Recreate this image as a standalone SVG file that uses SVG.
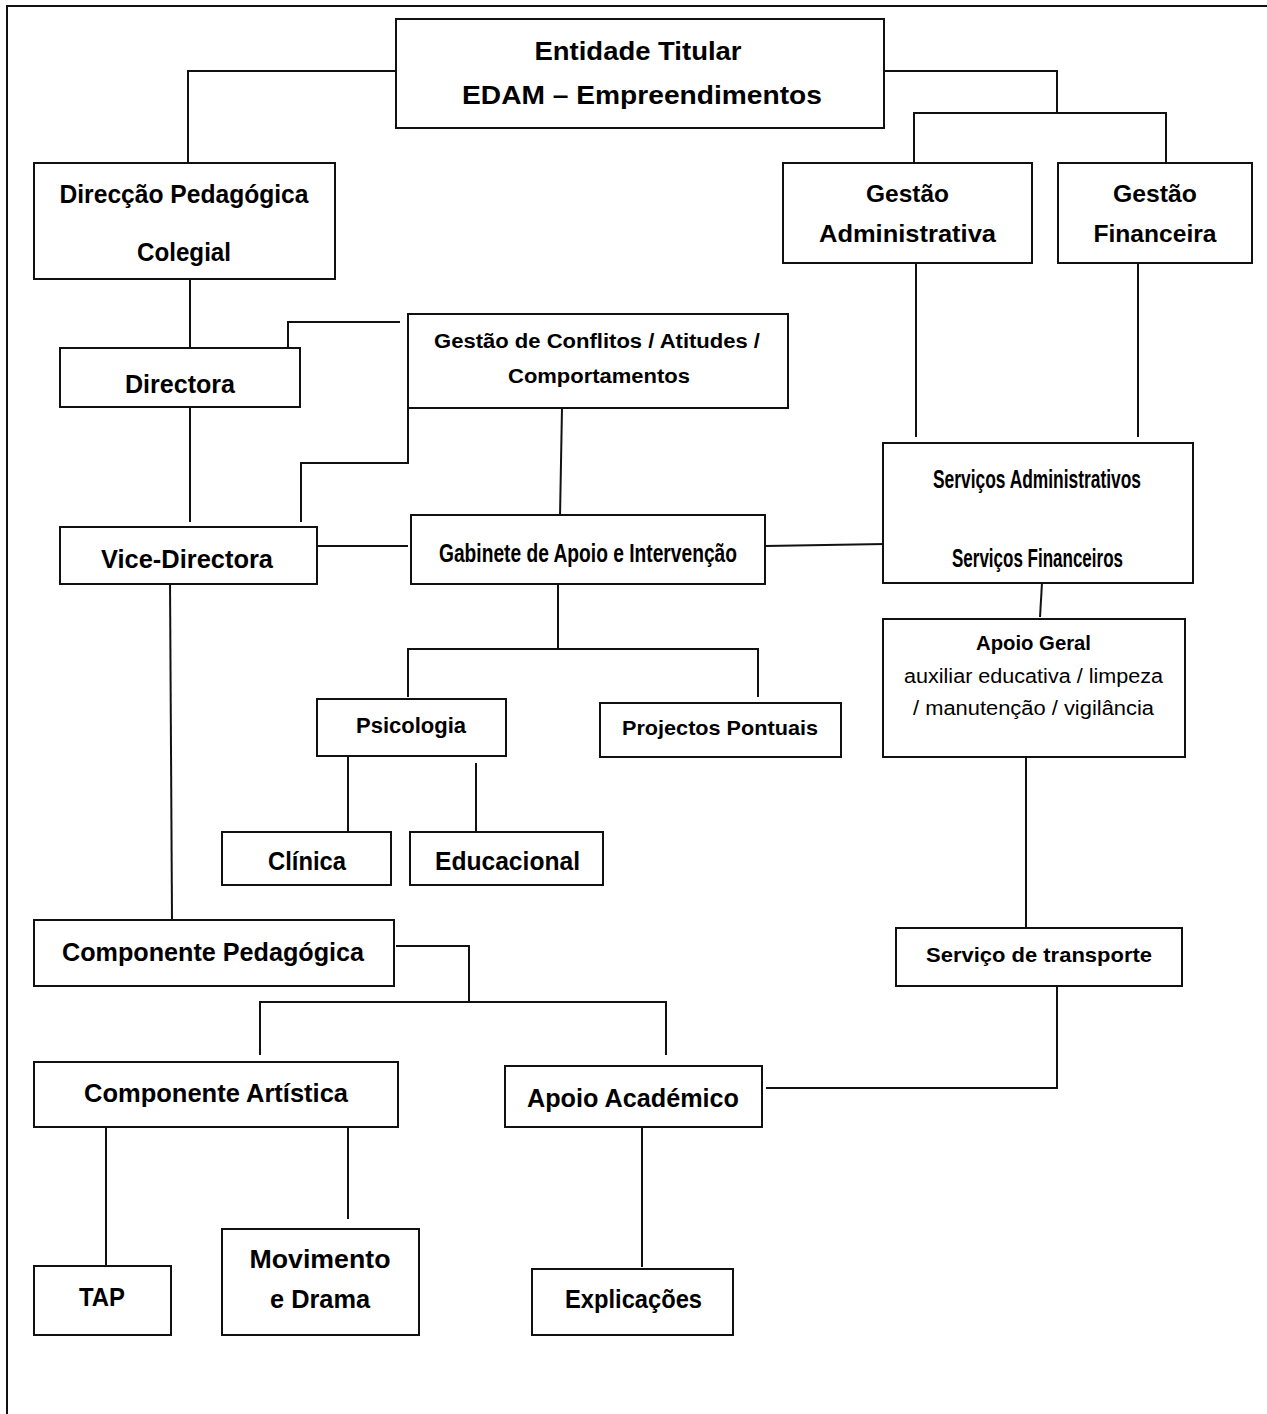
<svg xmlns="http://www.w3.org/2000/svg" width="1267" height="1414" viewBox="0 0 1267 1414">
<style>
.box{fill:#fff;stroke:#111;stroke-width:2}
.c path{fill:none;stroke:#111;stroke-width:2}
text{font-family:"Liberation Sans",Arial,sans-serif;font-weight:bold;fill:#000;text-anchor:middle}
.reg{font-weight:normal}
</style>
<rect width="1267" height="1414" fill="#fff"/>
<path d="M7,1414 V6 H1267" fill="none" stroke="#111" stroke-width="2"/>
<g class="c" id="connectors">
<path d="M396,71 H188 V163"/>
<path d="M884,71 H1057 V113"/>
<path d="M914,163 V113 H1166 V163"/>
<path d="M190,279 V348"/>
<path d="M288,348 V322 H400"/>
<path d="M190,407 V522"/>
<path d="M408,408 V463 H301 V522"/>
<path d="M562,408 L560,517"/>
<path d="M317,546 H408"/>
<path d="M765,546 L885,544"/>
<path d="M916,263 V437"/>
<path d="M1138,263 V437"/>
<path d="M1042,583 L1040,617"/>
<path d="M558,584 V649"/>
<path d="M408,697 V649 H758 V697"/>
<path d="M348,752 V835"/>
<path d="M476,763 V835"/>
<path d="M1026,752 V933"/>
<path d="M170,580 L172,919"/>
<path d="M396,946 H469 V1002"/>
<path d="M260,1055 V1002 H666 V1055"/>
<path d="M106,1120 V1267"/>
<path d="M348,1120 V1219"/>
<path d="M642,1120 V1267"/>
<path d="M1057,986 V1088 H766"/>
</g>
<g id="entidade"><rect class="box" x="396" y="19" width="488" height="109"/>
<text x="638" y="60" font-size="26" textLength="207" lengthAdjust="spacingAndGlyphs">Entidade Titular</text>
<text x="642" y="104" font-size="26" textLength="360" lengthAdjust="spacingAndGlyphs">EDAM – Empreendimentos</text></g>
<g id="direccao"><rect class="box" x="34" y="163" width="301" height="116"/>
<text x="184" y="203" font-size="25" textLength="249" lengthAdjust="spacingAndGlyphs">Direcção Pedagógica</text>
<text x="184" y="261" font-size="25" textLength="94" lengthAdjust="spacingAndGlyphs">Colegial</text></g>
<g id="directora"><rect class="box" x="60" y="348" width="240" height="59"/>
<text x="180" y="393" font-size="25" textLength="110" lengthAdjust="spacingAndGlyphs">Directora</text></g>
<g id="gestao-conflitos"><rect class="box" x="408" y="314" width="380" height="94"/>
<text x="597" y="348" font-size="20" textLength="326" lengthAdjust="spacingAndGlyphs">Gestão de Conflitos / Atitudes /</text>
<text x="599" y="383" font-size="20" textLength="182" lengthAdjust="spacingAndGlyphs">Comportamentos</text></g>
<g id="gestao-admin"><rect class="box" x="783" y="163" width="249" height="100"/>
<text x="907.5" y="202" font-size="24" textLength="83" lengthAdjust="spacingAndGlyphs">Gestão</text>
<text x="907.5" y="242" font-size="24" textLength="177" lengthAdjust="spacingAndGlyphs">Administrativa</text></g>
<g id="gestao-fin"><rect class="box" x="1058" y="163" width="194" height="100"/>
<text x="1155" y="202" font-size="24" textLength="84" lengthAdjust="spacingAndGlyphs">Gestão</text>
<text x="1155" y="242" font-size="24" textLength="123" lengthAdjust="spacingAndGlyphs">Financeira</text></g>
<g id="servicos"><rect class="box" x="883" y="443" width="310" height="140"/>
<text x="1037" y="488" font-size="26" textLength="208" lengthAdjust="spacingAndGlyphs">Serviços Administrativos</text>
<text x="1037.5" y="567" font-size="26" textLength="171" lengthAdjust="spacingAndGlyphs">Serviços Financeiros</text></g>
<g id="gabinete"><rect class="box" x="411" y="515" width="354" height="69"/>
<text x="588" y="562" font-size="26" textLength="298" lengthAdjust="spacingAndGlyphs">Gabinete de Apoio e Intervenção</text></g>
<g id="vice-directora"><rect class="box" x="60" y="527" width="257" height="57"/>
<text x="187" y="568" font-size="25" textLength="172" lengthAdjust="spacingAndGlyphs">Vice-Directora</text></g>
<g id="psicologia"><rect class="box" x="317" y="699" width="189" height="57"/>
<text x="411" y="733" font-size="22" textLength="110" lengthAdjust="spacingAndGlyphs">Psicologia</text></g>
<g id="projectos"><rect class="box" x="600" y="703" width="241" height="54"/>
<text x="720" y="735" font-size="21" textLength="196" lengthAdjust="spacingAndGlyphs">Projectos Pontuais</text></g>
<g id="apoio-geral"><rect class="box" x="883" y="619" width="302" height="138"/>
<text x="1033.5" y="650" font-size="20" textLength="115" lengthAdjust="spacingAndGlyphs">Apoio Geral</text>
<text class="reg" x="1033.5" y="683" font-size="20" textLength="259" lengthAdjust="spacingAndGlyphs">auxiliar educativa / limpeza</text>
<text class="reg" x="1033.5" y="715" font-size="20" textLength="241" lengthAdjust="spacingAndGlyphs">/ manutenção / vigilância</text></g>
<g id="clinica"><rect class="box" x="222" y="832" width="169" height="53"/>
<text x="307" y="870" font-size="25" textLength="78" lengthAdjust="spacingAndGlyphs">Clínica</text></g>
<g id="educacional"><rect class="box" x="410" y="832" width="193" height="53"/>
<text x="507.5" y="870" font-size="25" textLength="145" lengthAdjust="spacingAndGlyphs">Educacional</text></g>
<g id="componente-pedagogica"><rect class="box" x="34" y="920" width="360" height="66"/>
<text x="213" y="961" font-size="25" textLength="302" lengthAdjust="spacingAndGlyphs">Componente Pedagógica</text></g>
<g id="componente-artistica"><rect class="box" x="34" y="1062" width="364" height="65"/>
<text x="216" y="1102" font-size="25" textLength="264" lengthAdjust="spacingAndGlyphs">Componente Artística</text></g>
<g id="apoio-academico"><rect class="box" x="505" y="1066" width="257" height="61"/>
<text x="633" y="1107" font-size="25" textLength="212" lengthAdjust="spacingAndGlyphs">Apoio Académico</text></g>
<g id="tap"><rect class="box" x="34" y="1266" width="137" height="69"/>
<text x="102" y="1306" font-size="25" textLength="46" lengthAdjust="spacingAndGlyphs">TAP</text></g>
<g id="movimento"><rect class="box" x="222" y="1229" width="197" height="106"/>
<text x="320" y="1268" font-size="25" textLength="141" lengthAdjust="spacingAndGlyphs">Movimento</text>
<text x="320" y="1308" font-size="25" textLength="100" lengthAdjust="spacingAndGlyphs">e Drama</text></g>
<g id="explicacoes"><rect class="box" x="532" y="1269" width="201" height="66"/>
<text x="633.5" y="1308" font-size="25" textLength="137" lengthAdjust="spacingAndGlyphs">Explicações</text></g>
<g id="transporte"><rect class="box" x="896" y="928" width="286" height="58"/>
<text x="1039" y="962" font-size="21" textLength="226" lengthAdjust="spacingAndGlyphs">Serviço de transporte</text></g>
</svg>
